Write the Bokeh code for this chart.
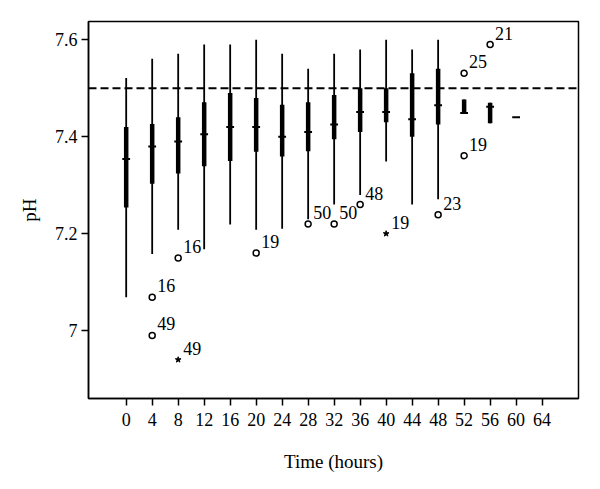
from bokeh.plotting import figure
from bokeh.models import Range1d, FixedTicker, Span, CustomJSTickFormatter
from bokeh.core.properties import value
from bokeh.embed import file_html
from bokeh.resources import INLINE

# --- data ---
times = [0, 4, 8, 12, 16, 20, 24, 28, 32, 36, 40, 44, 48, 52, 56, 60]
whisker_low = [7.069, 7.158, 7.208, 7.168, 7.219, 7.208, 7.210, 7.230, 7.260, 7.280, 7.349, 7.260, 7.271, 7.449, 7.428, 7.440]
q1 = [7.254, 7.303, 7.324, 7.339, 7.350, 7.369, 7.359, 7.370, 7.395, 7.410, 7.430, 7.400, 7.425, 7.449, 7.428, 7.440]
median = [7.354, 7.380, 7.390, 7.405, 7.420, 7.420, 7.400, 7.410, 7.425, 7.451, 7.451, 7.436, 7.465, 7.449, 7.462, 7.440]
q3 = [7.420, 7.426, 7.440, 7.471, 7.490, 7.480, 7.466, 7.471, 7.486, 7.500, 7.500, 7.531, 7.540, 7.477, 7.470, 7.440]
whisker_high = [7.521, 7.561, 7.571, 7.590, 7.590, 7.600, 7.571, 7.540, 7.571, 7.580, 7.600, 7.580, 7.600, 7.477, 7.470, 7.440]

out_x = [4, 4, 8, 8, 20, 28, 32, 36, 40, 48, 52, 52, 56]
out_y = [7.069, 6.990, 7.150, 6.940, 7.160, 7.220, 7.220, 7.260, 7.200, 7.239, 7.531, 7.361, 7.590]
out_label = ["16", "49", "16", "49", "19", "50", "50", "48", "19", "23", "25", "19", "21"]
out_kind = ["circle", "circle", "circle", "star", "circle", "circle", "circle", "circle", "star", "circle", "circle", "circle", "circle"]

x_ticks = [0, 4, 8, 12, 16, 20, 24, 28, 32, 36, 40, 44, 48, 52, 56, 60, 64]
y_ticks = [7.0, 7.2, 7.4, 7.6]
reference_ph = 7.5

FONT = "Liberation Serif"

p = figure(width=592, height=481,
           x_range=Range1d(-5.8, 69.6), y_range=Range1d(6.86, 7.6377),
           output_backend="svg", toolbar_location=None,
           min_border_left=88, min_border_right=14, min_border_top=21, min_border_bottom=83)
p.grid.visible = False
p.outline_line_color = "black"
p.outline_line_width = 1.5
p.outline_line_alpha = 1.0
p.background_fill_color = "white"
p.border_fill_color = "white"

# whiskers
p.segment(x0=times, y0=whisker_low, x1=times, y1=whisker_high, line_color="black", line_width=1.8)
# boxes
p.segment(x0=times, y0=q1, x1=times, y1=q3, line_color="black", line_width=4.5)
# medians
p.segment(x0=[t - 0.6 for t in times], y0=median, x1=[t + 0.6 for t in times], y1=median,
          line_color="black", line_width=2)

# reference line
p.add_layout(Span(location=reference_ph, dimension="width", line_color="black",
                  line_width=1.8, line_dash="8 4"))

# outliers
circ = [i for i, k in enumerate(out_kind) if k == "circle"]
star = [i for i, k in enumerate(out_kind) if k == "star"]
p.scatter(x=[out_x[i] for i in circ], y=[out_y[i] for i in circ], marker="circle", size=6,
          fill_color="white", line_color="black", line_width=1.5)
p.scatter(x=[out_x[i] for i in star], y=[out_y[i] for i in star], marker="star", size=6,
          fill_color="black", line_color="black", line_width=1)
p.text(x=out_x, y=out_y, text=out_label, x_offset=5, y_offset=-5,
       text_baseline="bottom", text_align="left",
       text_font=value(FONT), text_font_size="18px", text_color="black")

# axes
for ax in (p.xaxis[0], p.yaxis[0]):
    ax.axis_line_width = 1.5
    ax.axis_line_color = "black"
    ax.major_tick_line_color = "black"
    ax.major_tick_line_width = 1.5
    ax.major_tick_out = 7
    ax.major_tick_in = 0
    ax.minor_tick_line_color = None
    ax.major_label_text_font = FONT
    ax.major_label_text_font_size = "18px"
    ax.major_label_text_color = "black"
    ax.axis_label_text_font = FONT
    ax.axis_label_text_font_size = "19px"
    ax.axis_label_text_font_style = "normal"
    ax.axis_label_text_color = "black"

p.xaxis.ticker = FixedTicker(ticks=x_ticks)
p.yaxis.ticker = FixedTicker(ticks=y_ticks)
p.yaxis.formatter = CustomJSTickFormatter(code="return Math.abs(tick - 7) < 1e-9 ? '7' : tick.toFixed(1);")
p.xaxis.axis_label = "Time (hours)"
p.yaxis.axis_label = "pH"
p.xaxis.major_label_standoff = 7
p.yaxis.major_label_standoff = 4
p.xaxis.axis_label_standoff = 22
p.yaxis.axis_label_standoff = 12

open("out.html", "w").write(file_html(p, INLINE))
